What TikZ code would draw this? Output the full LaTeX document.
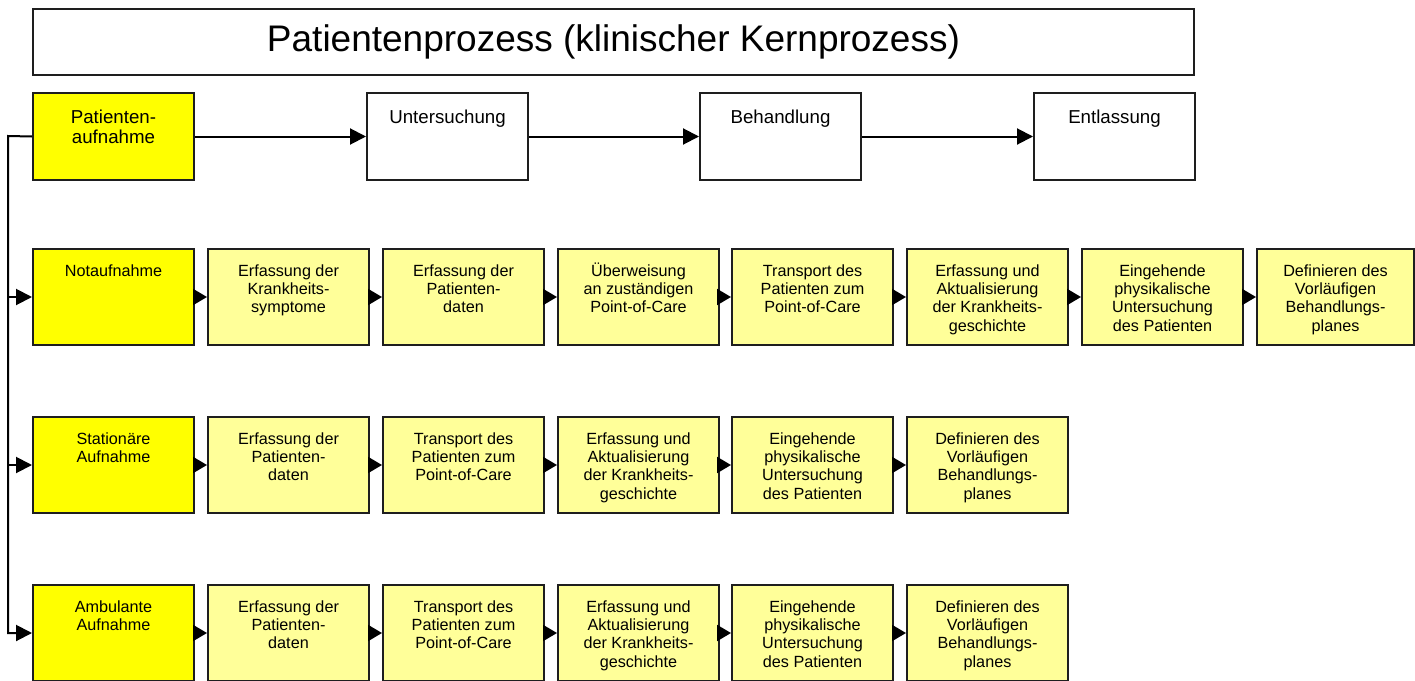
\documentclass[tikz,border=0pt]{standalone}
\usepackage{fontspec}
\setmainfont{Liberation Sans}
\usetikzlibrary{arrows.meta}

\definecolor{procyellow}{RGB}{255,255,0}
\definecolor{steplight}{RGB}{255,255,153}
\definecolor{edgegray}{RGB}{30,30,30}

% box body: width, height, first baseline below the top edge, text
\newcommand\cellbody[4]{\begin{minipage}[t][#2][t]{#1}\centering\rule{0pt}{#3}#4\end{minipage}}
\newcommand\rowcell[1]{\cellbody{161pt}{96pt}{27pt}{#1}}
\newcommand\lastcell[1]{\cellbody{157pt}{96pt}{27pt}{#1}}
\newcommand\headcell[1]{\cellbody{161pt}{87pt}{30pt}{#1}}

\tikzset{
  frame/.style={draw=edgegray, line width=2pt, inner sep=0pt, anchor=north west},
  keybox/.style={frame, fill=procyellow},
  stepbox/.style={frame, fill=steplight},
  mainbox/.style={frame, fill=white},
  headfont/.style={font=\fontsize{18.7}{20.5}\selectfont},
  rowfont/.style={font=\fontsize{16.2}{18.4}\selectfont},
  flow/.style={line width=2pt, -{Triangle[length=16pt,width=16pt]}},
  stepflow/.style={line width=2pt, -{Triangle[length=14pt,width=16pt]}},
}

\begin{document}
\begin{tikzpicture}[x=1pt, y=-1pt]
\useasboundingbox (0,0) rectangle (1415,680);

% title
\node[mainbox, minimum width=1161pt, minimum height=66pt,
      font=\fontsize{37}{40}\selectfont] (title) at (32,8)
  {Patientenprozess (klinischer Kernprozess)};

% main process
\node[keybox, headfont] (pa)  at (32,92)   {\headcell{Patienten-\\aufnahme}};
\node[mainbox, headfont] (unt) at (366,92)  {\headcell{Untersuchung}};
\node[mainbox, headfont] (beh) at (699,92)  {\headcell{Behandlung}};
\node[mainbox, headfont] (ent) at (1033,92) {\headcell{Entlassung}};

\draw[flow] (pa) -- (unt);
\draw[flow] (unt) -- (beh);
\draw[flow] (beh) -- (ent);

% emergency admission
\begin{scope}[rowfont]
\node[keybox]  (n1) at (32,248)   {\rowcell{Notaufnahme}};
\node[stepbox] (n2) at (207,248)  {\rowcell{Erfassung der\\Krankheits-\\symptome}};
\node[stepbox] (n3) at (382,248)  {\rowcell{Erfassung der\\Patienten-\\daten}};
\node[stepbox] (n4) at (557,248)  {\rowcell{Überweisung\\an zuständigen\\Point-of-Care}};
\node[stepbox] (n5) at (731,248)  {\rowcell{Transport des\\Patienten zum\\Point-of-Care}};
\node[stepbox] (n6) at (906,248)  {\rowcell{Erfassung und\\Aktualisierung\\der Krankheits-\\geschichte}};
\node[stepbox] (n7) at (1081,248) {\rowcell{Eingehende\\physikalische\\Untersuchung\\des Patienten}};
\node[stepbox] (n8) at (1256,248) {\lastcell{Definieren des\\Vorläufigen\\Behandlungs-\\planes}};

% inpatient admission
\node[keybox]  (s1) at (32,416)   {\rowcell{Stationäre\\Aufnahme}};
\node[stepbox] (s2) at (207,416)  {\rowcell{Erfassung der\\Patienten-\\daten}};
\node[stepbox] (s3) at (382,416)  {\rowcell{Transport des\\Patienten zum\\Point-of-Care}};
\node[stepbox] (s4) at (557,416)  {\rowcell{Erfassung und\\Aktualisierung\\der Krankheits-\\geschichte}};
\node[stepbox] (s5) at (731,416)  {\rowcell{Eingehende\\physikalische\\Untersuchung\\des Patienten}};
\node[stepbox] (s6) at (906,416)  {\rowcell{Definieren des\\Vorläufigen\\Behandlungs-\\planes}};

% outpatient admission
\node[keybox]  (a1) at (32,584)   {\rowcell{Ambulante\\Aufnahme}};
\node[stepbox] (a2) at (207,584)  {\rowcell{Erfassung der\\Patienten-\\daten}};
\node[stepbox] (a3) at (382,584)  {\rowcell{Transport des\\Patienten zum\\Point-of-Care}};
\node[stepbox] (a4) at (557,584)  {\rowcell{Erfassung und\\Aktualisierung\\der Krankheits-\\geschichte}};
\node[stepbox] (a5) at (731,584)  {\rowcell{Eingehende\\physikalische\\Untersuchung\\des Patienten}};
\node[stepbox] (a6) at (906,584)  {\rowcell{Definieren des\\Vorläufigen\\Behandlungs-\\planes}};
\end{scope}

\foreach \p/\q in {n1/n2,n2/n3,n3/n4,n4/n5,n5/n6,n6/n7,n7/n8,
                   s1/s2,s2/s3,s3/s4,s4/s5,s5/s6,
                   a1/a2,a2/a3,a3/a4,a4/a5,a5/a6}
  \draw[stepflow] (\p) -- (\q);

% branching from admission to the three admission types
\coordinate (trunk) at (8,136);
\draw[flow] (pa.west) -- (trunk) |- (a1.west);
\draw[flow] (trunk |- n1.west) -- (n1.west);
\draw[flow] (trunk |- s1.west) -- (s1.west);
\end{tikzpicture}
\end{document}
